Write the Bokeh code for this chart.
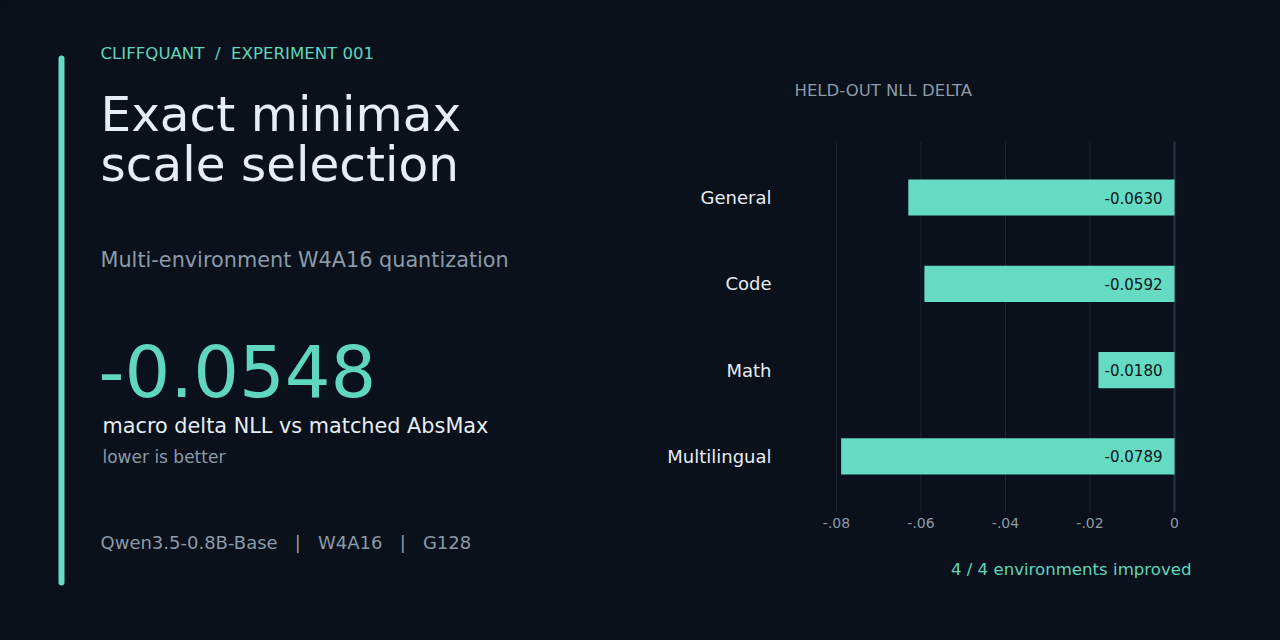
from bokeh.plotting import figure
from bokeh.models import Range1d
from bokeh.core.properties import value
from bokeh.embed import file_html
from bokeh.resources import INLINE

# ---- data ----
categories = ["General", "Code", "Math", "Multilingual"]
deltas = [-0.0630, -0.0592, -0.0180, -0.0789]
value_labels = ["-0.0630", "-0.0592", "-0.0180", "-0.0789"]
tick_vals = [-0.08, -0.06, -0.04, -0.02, 0.0]
tick_labels = ["-.08", "-.06", "-.04", "-.02", "0"]
headline_value = "-0.0548"

BG = "#0a111a"
MINT = "#64dbc2"
MINT_TXT = "#5fd6bd"
WHITE = "#e6edf5"
GRAY = "#8b9aa9"
GRID = "#1b2631"
ZERO = "#263543"
FONT = value("DejaVu Sans")
NB = "\u00a0"

W, H = 1280, 640
p = figure(width=W, height=H, x_range=Range1d(0, W), y_range=Range1d(H, 0),
           output_backend="svg", toolbar_location=None, min_border=0)
p.axis.visible = False
p.grid.visible = False
p.background_fill_color = BG
p.border_fill_color = BG
p.outline_line_color = None

# chart scales: -0.08 -> px 836, 0 -> px 1174 ; category rows 86.3 px apart, first at px 197
px_per_unit = (1174 - 836) / 0.08
x0 = -0.08 - 836 / px_per_unit
row_px = 86.3
y_top = -197 / row_px
p.extra_x_ranges = {"bx": Range1d(x0, x0 + W / px_per_unit)}
p.extra_y_ranges = {"by": Range1d(y_top + H / row_px, y_top)}

# ---- left panel ----
p.segment(x0=[61], y0=[58], x1=[61], y1=[582], line_color=MINT, line_width=6, line_cap="round")

def txt(x, y, s, size, color, align="left"):
    p.text(x=[x], y=[y], text=[s], text_font=FONT, text_font_size=f"{size}px",
           text_color=color, text_align=align, text_baseline="middle")

txt(100, 53, f"CLIFFQUANT{NB}{NB}/{NB}{NB}EXPERIMENT 001", 16.6, MINT_TXT)
txt(100, 113, "Exact minimax", 48.5, WHITE)
txt(100, 163, "scale selection", 48.5, WHITE)
txt(100, 259, "Multi-environment W4A16 quantization", 20.8, GRAY)
txt(98, 370, headline_value, 72, MINT_TXT)
txt(102, 425, "macro delta NLL vs matched AbsMax", 20.8, WHITE)
txt(102, 456, "lower is better", 17, GRAY)
txt(100, 541.5, f"Qwen3.5-0.8B-Base{NB*3}|{NB*3}W4A16{NB*3}|{NB*3}G128", 18, GRAY)

# ---- right panel ----
ys = list(range(len(categories)))
lo, hi = -0.65, len(categories) - 0.35
p.segment(x0=tick_vals, y0=[lo] * len(tick_vals), x1=tick_vals, y1=[hi] * len(tick_vals),
          line_color=GRID, line_width=1, x_range_name="bx", y_range_name="by")
p.segment(x0=[0], y0=[lo], x1=[0], y1=[hi], line_color=ZERO, line_width=2,
          x_range_name="bx", y_range_name="by")
p.hbar(y=ys, left=deltas, right=0, height=0.42, color=MINT, line_color=None,
       x_range_name="bx", y_range_name="by")
p.text(x=[0] * len(ys), y=ys, text=value_labels, x_offset=-12,
       text_font=FONT, text_font_size="15px", text_color="#0b141b",
       text_align="right", text_baseline="middle", x_range_name="bx", y_range_name="by")

# category labels (y axis)
p.text(x=[771] * len(ys), y=ys, text=categories, text_font=FONT, text_font_size="18px",
       text_color=WHITE, text_align="right", text_baseline="middle", y_range_name="by")
# tick labels (x axis)
p.text(x=tick_vals, y=[hi + 0.125] * len(tick_vals), text=tick_labels, text_font=FONT,
       text_font_size="14px", text_color=GRAY, text_align="center", text_baseline="middle",
       x_range_name="bx", y_range_name="by")

txt(794, 90, "HELD-OUT NLL DELTA", 16.5, GRAY)
txt(1191, 569, "4 / 4 environments improved", 16.6, MINT_TXT, align="right")

html = file_html(p, INLINE, title="Exact minimax scale selection")
html = html.replace("<head>", "<head><style>html,body{background:%s;}</style>" % BG, 1)
open("out.html", "w").write(html)
